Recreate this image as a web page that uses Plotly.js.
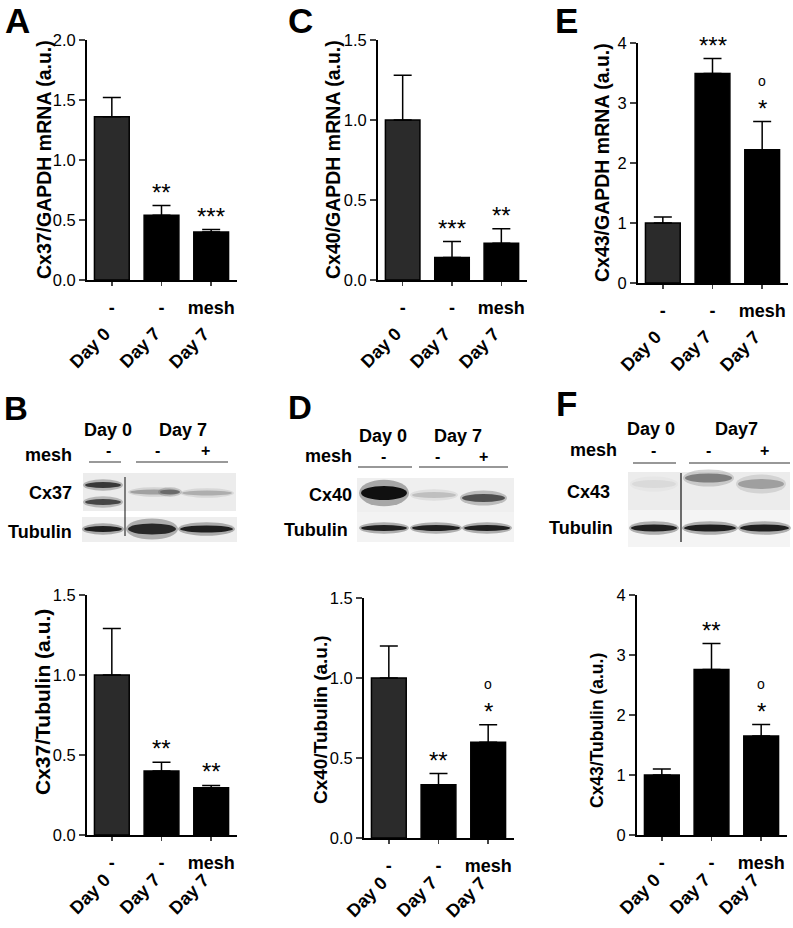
<!DOCTYPE html>
<html>
<head>
<meta charset="utf-8">
<script src="https://cdn.plot.ly/plotly-3.0.1.min.js"></script>
<style>
  html, body { margin: 0; padding: 0; background: #fff; }
  #fig { width: 793px; height: 928px; }
</style>
</head>
<body>
<div id="fig"></div>
<script>
// groups on the x axis
const groups = ['Day 0', 'Day 7', 'Day 7'];
const treatment = ['-', '-', 'mesh'];

// mRNA (top row)
const cx37Mrna = [1.36, 0.54, 0.40];
const cx37MrnaSem = [0.16, 0.08, 0.02];
const cx37MrnaSig = ['', '**', '***'];
const cx37MrnaVsD7 = ['', '', ''];

const cx40Mrna = [1.00, 0.14, 0.23];
const cx40MrnaSem = [0.28, 0.10, 0.09];
const cx40MrnaSig = ['', '***', '**'];
const cx40MrnaVsD7 = ['', '', ''];

const cx43Mrna = [1.00, 3.49, 2.22];
const cx43MrnaSem = [0.10, 0.25, 0.47];
const cx43MrnaSig = ['', '***', '*'];
const cx43MrnaVsD7 = ['', '', 'o'];

// protein / tubulin (bottom row)
const cx37Prot = [1.00, 0.40, 0.295];
const cx37ProtSem = [0.29, 0.055, 0.015];
const cx37ProtSig = ['', '**', '**'];
const cx37ProtVsD7 = ['', '', ''];

const cx40Prot = [1.00, 0.333, 0.598];
const cx40ProtSem = [0.20, 0.07, 0.11];
const cx40ProtSig = ['', '**', '*'];
const cx40ProtVsD7 = ['', '', 'o'];

const cx43Prot = [1.00, 2.76, 1.65];
const cx43ProtSem = [0.10, 0.43, 0.19];
const cx43ProtSig = ['', '**', '*'];
const cx43ProtVsD7 = ['', '', 'o'];

const W = 793, H = 928;
const px = v => v / W;
const py = v => 1 - v / H;
const FONT = 'Arial, "Liberation Sans", Helvetica, sans-serif';

// panel frames in pixels: left, right, top, bottom of the plot area
const panels = [
  {vals: cx37Mrna, sem: cx37MrnaSem, sig: cx37MrnaSig, ring: cx37MrnaVsD7, title: 'Cx37/GAPDH mRNA (a.u.)',
   box: [87, 237, 40, 280], yr: [0, 2], dtick: 0.5, fmt: '.1f', tx: 44, ty: 160, tsize: 19.5, dayShift: 41, firstGrey: true},
  {vals: cx40Mrna, sem: cx40MrnaSem, sig: cx40MrnaSig, ring: cx40MrnaVsD7, title: 'Cx40/GAPDH mRNA (a.u.)',
   box: [378, 527, 40, 280], yr: [0, 1.5], dtick: 0.5, fmt: '.1f', tx: 333, ty: 160, tsize: 19.5, dayShift: 41, firstGrey: true},
  {vals: cx43Mrna, sem: cx43MrnaSem, sig: cx43MrnaSig, ring: cx43MrnaVsD7, title: 'Cx43/GAPDH mRNA (a.u.)',
   box: [638, 788, 43, 283], yr: [0, 4], dtick: 1, fmt: 'd', tx: 602, ty: 163, tsize: 19.5, dayShift: 41, firstGrey: true},
  {vals: cx37Prot, sem: cx37ProtSem, sig: cx37ProtSig, ring: cx37ProtVsD7, title: 'Cx37/Tubulin (a.u.)',
   box: [87, 237, 595, 835], yr: [0, 1.5], dtick: 0.5, fmt: '.1f', tx: 42, ty: 702, tsize: 21, dayShift: 32, firstGrey: true},
  {vals: cx40Prot, sem: cx40ProtSem, sig: cx40ProtSig, ring: cx40ProtVsD7, title: 'Cx40/Tubulin (a.u.)',
   box: [364, 514, 598, 838], yr: [0, 1.5], dtick: 0.5, fmt: '.1f', tx: 320, ty: 720, tsize: 19, dayShift: 32, firstGrey: true},
  {vals: cx43Prot, sem: cx43ProtSem, sig: cx43ProtSig, ring: cx43ProtVsD7, title: 'Cx43/Tubulin (a.u.)',
   box: [637, 787, 595, 835], yr: [0, 4], dtick: 1, fmt: 'd', tx: 597, ty: 731, tsize: 17.5, dayShift: 32, firstGrey: false}
];

const data = [];
const annotations = [];
const shapes = [];
const layout = {
  width: W, height: H,
  margin: {l: 0, r: 0, t: 0, b: 0},
  paper_bgcolor: '#fff', plot_bgcolor: 'rgba(0,0,0,0)',
  showlegend: false, bargap: 0.3,
  font: {family: FONT, color: '#000'}
};

panels.forEach((p, k) => {
  const n = k + 1;
  const xa = 'x' + n, ya = 'y' + n;
  const xs = p.vals.map((v, i) => i);
  data.push({
    type: 'bar', x: xs, y: p.vals, xaxis: xa, yaxis: ya,
    marker: {color: p.vals.map((v, i) => (i === 0 && p.firstGrey) ? '#2b2b2b' : '#000'),
             line: {color: '#000', width: 1.5}},
    error_y: {type: 'data', array: p.sem, arrayminus: p.sem.map(() => 0), symmetric: false,
              color: '#000', thickness: 1.5, width: 9},
    hoverinfo: 'skip'
  });
  layout['xaxis' + n] = {
    domain: [px(p.box[0]), px(p.box[1])], anchor: ya,
    range: [-0.5, 2.52], tickvals: xs, ticktext: treatment,
    tickfont: {family: FONT, size: 18, weight: 'bold'},
    ticks: 'outside', ticklen: 4, tickwidth: 1.5, ticklabelstandoff: 6,
    showline: true, linewidth: 2, linecolor: '#000',
    showgrid: false, zeroline: false, fixedrange: true
  };
  layout['yaxis' + n] = {
    domain: [py(p.box[3]), py(p.box[2])], anchor: xa,
    range: p.yr, dtick: p.dtick, tick0: 0, tickformat: p.fmt,
    tickfont: {family: FONT, size: 16.5},
    ticks: 'outside', ticklen: 6, tickwidth: 1.5, ticklabelstandoff: 0,
    showline: true, linewidth: 2, linecolor: '#000',
    showgrid: false, zeroline: false, fixedrange: true
  };
  // rotated group labels
  groups.forEach((g, i) => {
    annotations.push({xref: xa, yref: ya + ' domain', x: i, y: 0, text: g, showarrow: false,
      textangle: -45, xanchor: 'right', yanchor: 'top', xshift: 5, yshift: -p.dayShift,
      font: {family: FONT, size: 18, weight: 'bold'}});
  });
  // significance marks
  p.sig.forEach((s, i) => {
    if (!s) return;
    annotations.push({xref: xa, yref: ya, x: i, y: p.vals[i] + p.sem[i], text: s, showarrow: false,
      xanchor: 'center', yanchor: 'bottom', yshift: -2, font: {family: FONT, size: 24}});
  });
  p.ring.forEach((s, i) => {
    if (!s) return;
    annotations.push({xref: xa, yref: ya, x: i, y: p.vals[i] + p.sem[i], text: s, showarrow: false,
      xanchor: 'center', yanchor: 'bottom', yshift: 31, font: {family: FONT, size: 14}});
  });
  // y axis title
  annotations.push({xref: 'paper', yref: 'paper', x: px(p.tx), y: py(p.ty), text: p.title, showarrow: false,
    textangle: -90, xanchor: 'center', yanchor: 'middle', font: {family: FONT, size: p.tsize, weight: 'bold'}});
});

// free text labels (panel letters and blot legends)
function label(x, y, text, size, xanchor) {
  annotations.push({xref: 'paper', yref: 'paper', x: px(x), y: py(y), text: text, showarrow: false,
    xanchor: xanchor || 'center', yanchor: 'middle', font: {family: FONT, size: size, weight: 'bold'}});
}
label(17, 20, 'A', 35); label(300, 20, 'C', 35); label(566, 20, 'E', 35);
label(16, 408, 'B', 33); label(300, 407, 'D', 33); label(566, 404, 'F', 35);

// western blot sketches
function rect(x0, x1, y0, y1, fill) {
  shapes.push({type: 'rect', xref: 'paper', yref: 'paper', x0: px(x0), x1: px(x1), y0: py(y1), y1: py(y0),
    fillcolor: fill, line: {width: 0}, layer: 'below'});
}
function line(x0, x1, y0, y1, color, w) {
  shapes.push({type: 'line', xref: 'paper', yref: 'paper', x0: px(x0), x1: px(x1), y0: py(y0), y1: py(y1),
    line: {color: color, width: w}});
}
function band(x0, x1, yc, h, color) {
  shapes.push({type: 'circle', xref: 'paper', yref: 'paper', x0: px(x0 - 2), x1: px(x1 + 2),
    y0: py(yc + h * 0.95), y1: py(yc - h * 0.95), fillcolor: color, opacity: 0.3, line: {width: 0}});
  shapes.push({type: 'circle', xref: 'paper', yref: 'paper', x0: px(x0), x1: px(x1),
    y0: py(yc + h / 2), y1: py(yc - h / 2), fillcolor: color, opacity: 0.9, line: {width: 0}});
}

// B : Cx37
label(108, 430, 'Day 0', 18); label(183, 430, 'Day 7', 18);
label(48, 455, 'mesh', 18);
label(108, 450, '-', 16); label(157, 450, '-', 16); label(205, 450, '+', 16);
line(89, 121, 462, 462, '#777', 1.5); line(136, 228, 462, 462, '#777', 1.5);
label(50, 493, 'Cx37', 18); label(40, 532, 'Tubulin', 18);
rect(83, 236, 473, 511, '#ececec'); rect(82, 237, 517, 542, '#eeeeee');
band(85, 121, 485, 6, '#2a2a2a'); band(85, 121, 502, 6, '#3a3a3a');
band(130, 178, 492, 5, '#9a9a9a'); band(160, 180, 492, 5, '#666'); band(182, 232, 493, 5, '#aaaaaa');
band(84, 122, 529, 6, '#111'); band(128, 176, 529, 11, '#1a1a1a'); band(180, 233, 529, 7, '#111');
line(125, 125, 477, 536, '#333', 1.2);

// D : Cx40
label(383, 436, 'Day 0', 18); label(458, 436, 'Day 7', 18);
label(328, 456, 'mesh', 18);
label(383, 456, '-', 16); label(437, 456, '-', 16); label(483, 456, '+', 16);
line(358, 412, 467, 467, '#333', 1.2); line(419, 508, 467, 467, '#333', 1.2);
label(330, 495, 'Cx40', 18); label(316, 530, 'Tubulin', 18);
rect(357, 514, 478, 512, '#efefef'); rect(357, 514, 512, 542, '#f3f3f3');
band(361, 407, 493, 14, '#000'); band(412, 456, 495, 6, '#bbbbbb'); band(462, 505, 498, 8, '#444');
band(361, 407, 528, 6, '#111'); band(412, 460, 528, 6, '#111'); band(464, 510, 528, 6, '#111');

// F : Cx43
label(651, 429, 'Day 0', 18); label(736, 429, 'Day7', 18);
label(593, 450, 'mesh', 18);
label(653, 450, '-', 16); label(708, 450, '-', 16); label(764, 450, '+', 16);
line(633, 676, 463, 463, '#333', 1.2); line(689, 790, 463, 463, '#333', 1.2);
label(588, 492, 'Cx43', 18); label(581, 528, 'Tubulin', 18);
rect(628, 790, 472, 510, '#ececec'); rect(628, 790, 510, 547, '#f4f4f4');
band(632, 676, 484, 8, '#d8d8d8'); band(685, 732, 478, 9, '#777'); band(738, 784, 484, 10, '#999');
band(631, 677, 528, 7, '#111'); band(684, 736, 528, 7, '#111'); band(740, 789, 528, 7, '#111');
line(681, 681, 473, 542, '#111', 1.2);

layout.annotations = annotations;
layout.shapes = shapes;

Plotly.newPlot('fig', data, layout, {staticPlot: true, displayModeBar: false});
</script>
</body>
</html>
